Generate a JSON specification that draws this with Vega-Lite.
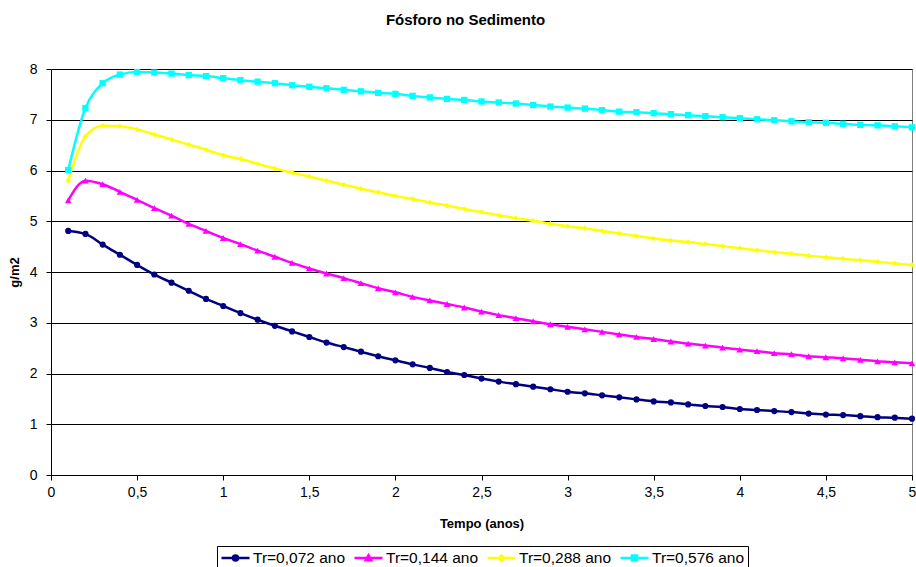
{
  "$schema": "https://vega.github.io/schema/vega-lite/v6.json",
  "width": 861,
  "height": 406,
  "autosize": {"type": "none"},
  "padding": {"left": 51, "top": 69, "right": 4, "bottom": 92},
  "background": "white",
  "config": {
    "font": "Liberation Sans",
    "view": {"stroke": "#808080", "strokeWidth": 1},
    "axis": {"labelColor": "black", "titleColor": "black", "domainColor": "black", "tickColor": "black", "labelFont": "Liberation Sans", "titleFont": "Liberation Sans"}
  },
  "title": {
    "text": "Fósforo no Sedimento",
    "fontSize": 15,
    "fontWeight": "bold",
    "color": "black",
    "anchor": "middle",
    "frame": "group",
    "dx": -16,
    "offset": 34
  },
  "datasets": {
    "rows": [
      {"t":0.1,"s":"Tr=0,072 ano","v":4.81},{"t":0.2,"s":"Tr=0,072 ano","v":4.75},{"t":0.3,"s":"Tr=0,072 ano","v":4.54},{"t":0.4,"s":"Tr=0,072 ano","v":4.34},{"t":0.5,"s":"Tr=0,072 ano","v":4.14},
      {"t":0.6,"s":"Tr=0,072 ano","v":3.95},{"t":0.7,"s":"Tr=0,072 ano","v":3.79},{"t":0.8,"s":"Tr=0,072 ano","v":3.63},{"t":0.9,"s":"Tr=0,072 ano","v":3.47},{"t":1.0,"s":"Tr=0,072 ano","v":3.33},
      {"t":1.1,"s":"Tr=0,072 ano","v":3.19},{"t":1.2,"s":"Tr=0,072 ano","v":3.06},{"t":1.3,"s":"Tr=0,072 ano","v":2.94},{"t":1.4,"s":"Tr=0,072 ano","v":2.83},{"t":1.5,"s":"Tr=0,072 ano","v":2.72},
      {"t":1.6,"s":"Tr=0,072 ano","v":2.61},{"t":1.7,"s":"Tr=0,072 ano","v":2.52},{"t":1.8,"s":"Tr=0,072 ano","v":2.43},{"t":1.9,"s":"Tr=0,072 ano","v":2.34},{"t":2.0,"s":"Tr=0,072 ano","v":2.26},
      {"t":2.1,"s":"Tr=0,072 ano","v":2.18},{"t":2.2,"s":"Tr=0,072 ano","v":2.11},{"t":2.3,"s":"Tr=0,072 ano","v":2.03},{"t":2.4,"s":"Tr=0,072 ano","v":1.97},{"t":2.5,"s":"Tr=0,072 ano","v":1.90},
      {"t":2.6,"s":"Tr=0,072 ano","v":1.84},{"t":2.7,"s":"Tr=0,072 ano","v":1.79},{"t":2.8,"s":"Tr=0,072 ano","v":1.74},{"t":2.9,"s":"Tr=0,072 ano","v":1.69},{"t":3.0,"s":"Tr=0,072 ano","v":1.64},
      {"t":3.1,"s":"Tr=0,072 ano","v":1.61},{"t":3.2,"s":"Tr=0,072 ano","v":1.57},{"t":3.3,"s":"Tr=0,072 ano","v":1.53},{"t":3.4,"s":"Tr=0,072 ano","v":1.49},{"t":3.5,"s":"Tr=0,072 ano","v":1.45},
      {"t":3.6,"s":"Tr=0,072 ano","v":1.43},{"t":3.7,"s":"Tr=0,072 ano","v":1.39},{"t":3.8,"s":"Tr=0,072 ano","v":1.36},{"t":3.9,"s":"Tr=0,072 ano","v":1.34},{"t":4.0,"s":"Tr=0,072 ano","v":1.30},
      {"t":4.1,"s":"Tr=0,072 ano","v":1.28},{"t":4.2,"s":"Tr=0,072 ano","v":1.26},{"t":4.3,"s":"Tr=0,072 ano","v":1.24},{"t":4.4,"s":"Tr=0,072 ano","v":1.21},{"t":4.5,"s":"Tr=0,072 ano","v":1.19},
      {"t":4.6,"s":"Tr=0,072 ano","v":1.18},{"t":4.7,"s":"Tr=0,072 ano","v":1.16},{"t":4.8,"s":"Tr=0,072 ano","v":1.14},{"t":4.9,"s":"Tr=0,072 ano","v":1.13},{"t":5.0,"s":"Tr=0,072 ano","v":1.11},

      {"t":0.1,"s":"Tr=0,144 ano","v":5.41},{"t":0.2,"s":"Tr=0,144 ano","v":5.80},{"t":0.3,"s":"Tr=0,144 ano","v":5.73},{"t":0.4,"s":"Tr=0,144 ano","v":5.58},{"t":0.5,"s":"Tr=0,144 ano","v":5.42},
      {"t":0.6,"s":"Tr=0,144 ano","v":5.26},{"t":0.7,"s":"Tr=0,144 ano","v":5.11},{"t":0.8,"s":"Tr=0,144 ano","v":4.95},{"t":0.9,"s":"Tr=0,144 ano","v":4.81},{"t":1.0,"s":"Tr=0,144 ano","v":4.67},
      {"t":1.1,"s":"Tr=0,144 ano","v":4.55},{"t":1.2,"s":"Tr=0,144 ano","v":4.42},{"t":1.3,"s":"Tr=0,144 ano","v":4.30},{"t":1.4,"s":"Tr=0,144 ano","v":4.18},{"t":1.5,"s":"Tr=0,144 ano","v":4.07},
      {"t":1.6,"s":"Tr=0,144 ano","v":3.97},{"t":1.7,"s":"Tr=0,144 ano","v":3.88},{"t":1.8,"s":"Tr=0,144 ano","v":3.78},{"t":1.9,"s":"Tr=0,144 ano","v":3.68},{"t":2.0,"s":"Tr=0,144 ano","v":3.60},
      {"t":2.1,"s":"Tr=0,144 ano","v":3.51},{"t":2.2,"s":"Tr=0,144 ano","v":3.44},{"t":2.3,"s":"Tr=0,144 ano","v":3.37},{"t":2.4,"s":"Tr=0,144 ano","v":3.30},{"t":2.5,"s":"Tr=0,144 ano","v":3.22},
      {"t":2.6,"s":"Tr=0,144 ano","v":3.15},{"t":2.7,"s":"Tr=0,144 ano","v":3.09},{"t":2.8,"s":"Tr=0,144 ano","v":3.03},{"t":2.9,"s":"Tr=0,144 ano","v":2.97},{"t":3.0,"s":"Tr=0,144 ano","v":2.92},
      {"t":3.1,"s":"Tr=0,144 ano","v":2.87},{"t":3.2,"s":"Tr=0,144 ano","v":2.82},{"t":3.3,"s":"Tr=0,144 ano","v":2.77},{"t":3.4,"s":"Tr=0,144 ano","v":2.72},{"t":3.5,"s":"Tr=0,144 ano","v":2.68},
      {"t":3.6,"s":"Tr=0,144 ano","v":2.63},{"t":3.7,"s":"Tr=0,144 ano","v":2.59},{"t":3.8,"s":"Tr=0,144 ano","v":2.55},{"t":3.9,"s":"Tr=0,144 ano","v":2.51},{"t":4.0,"s":"Tr=0,144 ano","v":2.47},
      {"t":4.1,"s":"Tr=0,144 ano","v":2.44},{"t":4.2,"s":"Tr=0,144 ano","v":2.40},{"t":4.3,"s":"Tr=0,144 ano","v":2.38},{"t":4.4,"s":"Tr=0,144 ano","v":2.34},{"t":4.5,"s":"Tr=0,144 ano","v":2.32},
      {"t":4.6,"s":"Tr=0,144 ano","v":2.30},{"t":4.7,"s":"Tr=0,144 ano","v":2.27},{"t":4.8,"s":"Tr=0,144 ano","v":2.24},{"t":4.9,"s":"Tr=0,144 ano","v":2.22},{"t":5.0,"s":"Tr=0,144 ano","v":2.20},

      {"t":0.1,"s":"Tr=0,288 ano","v":5.80},{"t":0.2,"s":"Tr=0,288 ano","v":6.67},{"t":0.3,"s":"Tr=0,288 ano","v":6.88},{"t":0.4,"s":"Tr=0,288 ano","v":6.87},{"t":0.5,"s":"Tr=0,288 ano","v":6.81},
      {"t":0.6,"s":"Tr=0,288 ano","v":6.71},{"t":0.7,"s":"Tr=0,288 ano","v":6.61},{"t":0.8,"s":"Tr=0,288 ano","v":6.51},{"t":0.9,"s":"Tr=0,288 ano","v":6.41},{"t":1.0,"s":"Tr=0,288 ano","v":6.30},
      {"t":1.1,"s":"Tr=0,288 ano","v":6.23},{"t":1.2,"s":"Tr=0,288 ano","v":6.13},{"t":1.3,"s":"Tr=0,288 ano","v":6.04},{"t":1.4,"s":"Tr=0,288 ano","v":5.96},{"t":1.5,"s":"Tr=0,288 ano","v":5.88},
      {"t":1.6,"s":"Tr=0,288 ano","v":5.80},{"t":1.7,"s":"Tr=0,288 ano","v":5.72},{"t":1.8,"s":"Tr=0,288 ano","v":5.64},{"t":1.9,"s":"Tr=0,288 ano","v":5.57},{"t":2.0,"s":"Tr=0,288 ano","v":5.50},
      {"t":2.1,"s":"Tr=0,288 ano","v":5.44},{"t":2.2,"s":"Tr=0,288 ano","v":5.37},{"t":2.3,"s":"Tr=0,288 ano","v":5.31},{"t":2.4,"s":"Tr=0,288 ano","v":5.24},{"t":2.5,"s":"Tr=0,288 ano","v":5.18},
      {"t":2.6,"s":"Tr=0,288 ano","v":5.12},{"t":2.7,"s":"Tr=0,288 ano","v":5.06},{"t":2.8,"s":"Tr=0,288 ano","v":5.01},{"t":2.9,"s":"Tr=0,288 ano","v":4.95},{"t":3.0,"s":"Tr=0,288 ano","v":4.90},
      {"t":3.1,"s":"Tr=0,288 ano","v":4.86},{"t":3.2,"s":"Tr=0,288 ano","v":4.81},{"t":3.3,"s":"Tr=0,288 ano","v":4.76},{"t":3.4,"s":"Tr=0,288 ano","v":4.71},{"t":3.5,"s":"Tr=0,288 ano","v":4.66},
      {"t":3.6,"s":"Tr=0,288 ano","v":4.62},{"t":3.7,"s":"Tr=0,288 ano","v":4.59},{"t":3.8,"s":"Tr=0,288 ano","v":4.55},{"t":3.9,"s":"Tr=0,288 ano","v":4.51},{"t":4.0,"s":"Tr=0,288 ano","v":4.47},
      {"t":4.1,"s":"Tr=0,288 ano","v":4.43},{"t":4.2,"s":"Tr=0,288 ano","v":4.39},{"t":4.3,"s":"Tr=0,288 ano","v":4.36},{"t":4.4,"s":"Tr=0,288 ano","v":4.32},{"t":4.5,"s":"Tr=0,288 ano","v":4.29},
      {"t":4.6,"s":"Tr=0,288 ano","v":4.26},{"t":4.7,"s":"Tr=0,288 ano","v":4.23},{"t":4.8,"s":"Tr=0,288 ano","v":4.20},{"t":4.9,"s":"Tr=0,288 ano","v":4.17},{"t":5.0,"s":"Tr=0,288 ano","v":4.14},

      {"t":0.1,"s":"Tr=0,576 ano","v":6.01},{"t":0.2,"s":"Tr=0,576 ano","v":7.23},{"t":0.3,"s":"Tr=0,576 ano","v":7.72},{"t":0.4,"s":"Tr=0,576 ano","v":7.89},{"t":0.5,"s":"Tr=0,576 ano","v":7.94},
      {"t":0.6,"s":"Tr=0,576 ano","v":7.93},{"t":0.7,"s":"Tr=0,576 ano","v":7.91},{"t":0.8,"s":"Tr=0,576 ano","v":7.88},{"t":0.9,"s":"Tr=0,576 ano","v":7.86},{"t":1.0,"s":"Tr=0,576 ano","v":7.82},
      {"t":1.1,"s":"Tr=0,576 ano","v":7.78},{"t":1.2,"s":"Tr=0,576 ano","v":7.75},{"t":1.3,"s":"Tr=0,576 ano","v":7.72},{"t":1.4,"s":"Tr=0,576 ano","v":7.68},{"t":1.5,"s":"Tr=0,576 ano","v":7.65},
      {"t":1.6,"s":"Tr=0,576 ano","v":7.62},{"t":1.7,"s":"Tr=0,576 ano","v":7.59},{"t":1.8,"s":"Tr=0,576 ano","v":7.56},{"t":1.9,"s":"Tr=0,576 ano","v":7.53},{"t":2.0,"s":"Tr=0,576 ano","v":7.51},
      {"t":2.1,"s":"Tr=0,576 ano","v":7.47},{"t":2.2,"s":"Tr=0,576 ano","v":7.44},{"t":2.3,"s":"Tr=0,576 ano","v":7.41},{"t":2.4,"s":"Tr=0,576 ano","v":7.39},{"t":2.5,"s":"Tr=0,576 ano","v":7.36},
      {"t":2.6,"s":"Tr=0,576 ano","v":7.34},{"t":2.7,"s":"Tr=0,576 ano","v":7.32},{"t":2.8,"s":"Tr=0,576 ano","v":7.29},{"t":2.9,"s":"Tr=0,576 ano","v":7.26},{"t":3.0,"s":"Tr=0,576 ano","v":7.24},
      {"t":3.1,"s":"Tr=0,576 ano","v":7.22},{"t":3.2,"s":"Tr=0,576 ano","v":7.19},{"t":3.3,"s":"Tr=0,576 ano","v":7.16},{"t":3.4,"s":"Tr=0,576 ano","v":7.15},{"t":3.5,"s":"Tr=0,576 ano","v":7.13},
      {"t":3.6,"s":"Tr=0,576 ano","v":7.11},{"t":3.7,"s":"Tr=0,576 ano","v":7.09},{"t":3.8,"s":"Tr=0,576 ano","v":7.07},{"t":3.9,"s":"Tr=0,576 ano","v":7.05},{"t":4.0,"s":"Tr=0,576 ano","v":7.03},
      {"t":4.1,"s":"Tr=0,576 ano","v":7.01},{"t":4.2,"s":"Tr=0,576 ano","v":6.99},{"t":4.3,"s":"Tr=0,576 ano","v":6.97},{"t":4.4,"s":"Tr=0,576 ano","v":6.95},{"t":4.5,"s":"Tr=0,576 ano","v":6.94},
      {"t":4.6,"s":"Tr=0,576 ano","v":6.92},{"t":4.7,"s":"Tr=0,576 ano","v":6.90},{"t":4.8,"s":"Tr=0,576 ano","v":6.89},{"t":4.9,"s":"Tr=0,576 ano","v":6.87},{"t":5.0,"s":"Tr=0,576 ano","v":6.85}
    ]
  },
  "data": {"name": "rows"},
  "encoding": {
    "x": {
      "field": "t", "type": "quantitative",
      "scale": {"domain": [0, 5], "nice": false, "zero": false},
      "axis": {
        "title": "Tempo (anos)",
        "titleFontSize": 13, "titleFontWeight": "bold",
        "titleY": 48, "titleBaseline": "middle",
        "values": [0, 0.5, 1, 1.5, 2, 2.5, 3, 3.5, 4, 4.5, 5],
        "labelExpr": "replace(format(datum.value, '~g'), '.', ',')",
        "labelFontSize": 14, "labelPadding": 5,
        "tickSize": 5, "grid": false, "labelFlush": false, "labelOverlap": false
      }
    },
    "y": {
      "field": "v", "type": "quantitative",
      "scale": {"domain": [0, 8], "nice": false},
      "axis": {
        "title": "g/m2",
        "titleFontSize": 13, "titleFontWeight": "bold",
        "titleX": -37, "titleY": 203, "titleAlign": "center", "titleBaseline": "middle", "titleAngle": -90,
        "values": [0, 1, 2, 3, 4, 5, 6, 7, 8],
        "labelFontSize": 14, "labelPadding": 9,
        "tickSize": 5,
        "grid": true, "gridColor": "black",
        "gridOpacity": 1, "gridWidth": 1
      }
    },
    "color": {
      "field": "s", "type": "nominal",
      "scale": {"domain": ["Tr=0,072 ano", "Tr=0,144 ano", "Tr=0,288 ano", "Tr=0,576 ano"], "range": ["#000080", "#FF00FF", "#FFFF00", "#00FFFF"]},
      "legend": {
        "title": null,
        "orient": "none", "legendX": 166, "legendY": 477,
        "direction": "horizontal", "columns": 4,
        "padding": 3, "strokeColor": "black",
        "labelFontSize": 15.5, "labelColor": "black", "labelFont": "Liberation Sans",
        "labelOffset": 2, "columnPadding": 7,
        "symbolSize": 784, "clipHeight": 18,
        "symbolStrokeWidth": 2.5,
        "encode": {
          "symbols": {
            "update": {
              "shape": {"signal": "datum.value === 'Tr=0,072 ano' ? 'M-1,0H1M-0.18,0A0.18,0.18 0 1,1 0.18,0A0.18,0.18 0 1,1 -0.18,0Z' : datum.value === 'Tr=0,144 ano' ? 'M-1,0H1M-0.2,0.16L0,-0.2L0.2,0.16Z' : datum.value === 'Tr=0,288 ano' ? 'M-1,0H1M0,-0.18L0.18,0L0,0.18L-0.18,0Z' : 'M-1,0H1M-0.18,-0.18H0.18V0.18H-0.18Z'"},
              "fill": {"signal": "scale('color', datum.value)"},
              "stroke": {"signal": "scale('color', datum.value)"},
              "opacity": {"value": 1}
            }
          }
        }
      }
    }
  },
  "layer": [
    {
      "mark": {"type": "line", "interpolate": "monotone", "strokeWidth": 2.5}
    },
    {
      "transform": [{"filter": "datum.s === 'Tr=0,072 ano'"}],
      "mark": {"type": "point", "filled": true, "opacity": 1, "size": 38, "shape": "circle"}
    },
    {
      "transform": [{"filter": "datum.s === 'Tr=0,144 ano'"}],
      "mark": {"type": "point", "filled": true, "opacity": 1, "size": 45, "shape": "triangle-up"}
    },
    {
      "transform": [{"filter": "datum.s === 'Tr=0,288 ano'"}],
      "mark": {"type": "point", "filled": true, "opacity": 1, "size": 30, "shape": "diamond"}
    },
    {
      "transform": [{"filter": "datum.s === 'Tr=0,576 ano'"}],
      "mark": {"type": "point", "filled": true, "opacity": 1, "size": 40, "shape": "square"}
    }
  ]
}
